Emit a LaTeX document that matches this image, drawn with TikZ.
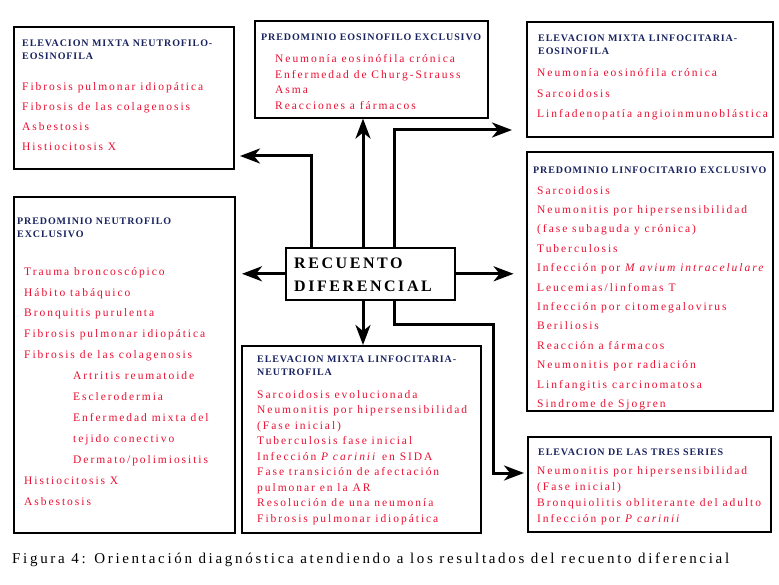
\documentclass[tikz,border=0pt]{standalone}
\usepackage{fontspec}
\setmainfont{Liberation Serif}
\newfontfamily\itemfont{Liberation Serif}[LetterSpace=17]
\newfontfamily\headfont{Liberation Serif}[LetterSpace=9]
\newfontfamily\recfont{Liberation Serif}[LetterSpace=16]
\newfontfamily\capfont{Liberation Serif}[LetterSpace=18]
\usetikzlibrary{arrows.meta,positioning}
\definecolor{headblue}{RGB}{25,35,95}
\definecolor{itemred}{RGB}{235,15,50}

\begin{document}
\begin{tikzpicture}[x=1pt, y=-1pt,
    box/.style={draw, line width=1.6pt, anchor=north west, inner sep=0pt},
    head/.style={anchor=base west, inner sep=0pt, align=left, text=headblue,
      font=\headfont\bfseries\fontsize{10}{13}\selectfont},
    items/.style={anchor=base west, inner sep=0pt, align=left, text=itemred,
      font=\itemfont\fontsize{11.5}{#1}\selectfont},
    conn/.style={line width=3pt, -{Stealth[length=20pt,width=15pt,inset=6pt]}},
  ]
  \useasboundingbox (0,0) rectangle (779,585);

  % boxes
  \node[box, minimum width=220pt, minimum height=142pt] (mxne) at (13,26) {};
  \node[box, minimum width=233pt, minimum height=97pt] (eos) at (254,20) {};
  \node[box, minimum width=246pt, minimum height=115pt] (mxle) at (526,21) {};
  \node[box, minimum width=221pt, minimum height=336pt] (neu) at (13,196) {};
  \node[box, minimum width=169pt, minimum height=52pt] (rec) at (285,247) {};
  \node[box, minimum width=239pt, minimum height=187pt] (mlne) at (241,345) {};
  \node[box, minimum width=246pt, minimum height=259pt] (lin) at (526,151) {};
  \node[box, minimum width=243pt, minimum height=95pt] (tres) at (527,436) {};

  % texts (base = last line)
  \node[head] (mxneh) at ([shift={(9,34)}]mxne.north west) {ELEVACION MIXTA NEUTROFILO-\\EOSINOFILA};
  \node[items=20] (mxnel) at ([shift={(9,125)}]mxne.north west) {Fibrosis pulmonar idiopática\\
    Fibrosis de las colagenosis\\Asbestosis\\Histiocitosis X};

  \node[head] (eosh) at ([shift={(7,21)}]eos.north west) {PREDOMINIO EOSINOFILO EXCLUSIVO};
  \node[items=15.5] (eosl) at ([shift={(21,89.5)}]eos.north west) {Neumonía eosinófila crónica\\
    Enfermedad de Churg-Strauss\\Asma\\Reacciones a fármacos};

  \node[head] (mxleh) at ([shift={(12,34)}]mxle.north west) {ELEVACION MIXTA LINFOCITARIA-\\EOSINOFILA};
  \node[items=20.5] (mxlel) at ([shift={(11,97)}]mxle.north west) {Neumonía eosinófila crónica\\
    Sarcoidosis\\Linfadenopatía angioinmunoblástica};

  \node[head] (neuh) at ([shift={(4,42)}]neu.north west) {PREDOMINIO NEUTROFILO\\EXCLUSIVO};
  \node[items=20.9] (neul) at ([shift={(11,309)}]neu.north west) {Trauma broncoscópico\\
    Hábito tabáquico\\Bronquitis purulenta\\Fibrosis pulmonar idiopática\\
    Fibrosis de las colagenosis\\
    \hspace*{49pt}Artritis reumatoide\\
    \hspace*{49pt}Esclerodermia\\
    \hspace*{49pt}Enfermedad mixta del\\
    \hspace*{49pt}tejido conectivo\\
    \hspace*{49pt}Dermato/polimiositis\\
    Histiocitosis X\\Asbestosis};

  \node[anchor=base west, inner sep=0pt, align=left,
    font=\recfont\bfseries\fontsize{16}{23}\selectfont] (rect) at ([shift={(9,44)}]rec.north west)
    {RECUENTO\\DIFERENCIAL};

  \node[head] (mlneh) at ([shift={(16,30)}]mlne.north west) {ELEVACION MIXTA LINFOCITARIA-\\NEUTROFILA};
  \node[items=15.5] (mlnel) at ([shift={(16,177)}]mlne.north west) {Sarcoidosis evolucionada\\
    Neumonitis por hipersensibilidad\\(Fase inicial)\\Tuberculosis fase inicial\\
    Infección \textit{P carinii} en SIDA\\Fase transición de afectación\\
    pulmonar en la AR\\Resolución de una neumonía\\Fibrosis pulmonar idiopática};

  \node[head] (linh) at ([shift={(7,23)}]lin.north west) {PREDOMINIO LINFOCITARIO EXCLUSIVO};
  \node[items=19.4] (linl) at ([shift={(11,256.4)}]lin.north west) {Sarcoidosis\\
    Neumonitis por hipersensibilidad\\(fase subaguda y crónica)\\Tuberculosis\\
    Infección por \textit{M avium intracelulare}\\Leucemias/linfomas T\\
    Infección por citomegalovirus\\Beriliosis\\Reacción a fármacos\\
    Neumonitis por radiación\\Linfangitis carcinomatosa\\Sindrome de Sjogren};

  \node[head] (tresh) at ([shift={(11,19)}]tres.north west) {ELEVACION DE LAS TRES SERIES};
  \node[items=15.7] (tresl) at ([shift={(10,86)}]tres.north west) {Neumonitis por hipersensibilidad\\
    (Fase inicial)\\Bronquiolitis obliterante del adulto\\Infección por \textit{P carinii}};

  \node[anchor=base west, inner sep=0pt, font=\capfont\fontsize{15}{17}\selectfont] (caption) at (12,563)
    {Figura 4: Orientación diagnóstica atendiendo a los resultados del recuento diferencial};

  % connectors
  \coordinate (rn1) at ([xshift=26]rec.north west);
  \coordinate (rn2) at ([xshift=78]rec.north west);
  \coordinate (rn3) at ([xshift=109]rec.north west);
  \coordinate (rs2) at ([xshift=78]rec.south west);
  \coordinate (rs3) at ([xshift=109]rec.south west);
  \coordinate (tipne) at (240,156);
  \coordinate (tiple) at (512,130);
  \coordinate (tipneu) at ([xshift=-43]rec.west);
  \coordinate (tiplin) at ([xshift=58]rec.east);
  \coordinate (bendtres) at (493,324);
  \coordinate (tiptres) at (524,473);

  \draw[conn] (rn1) |- (tipne);
  \draw[conn] (rn2) -- (rn2 |- eos.south);
  \draw[conn] (rn3) |- (tiple);
  \draw[conn] (rec.west) -- (tipneu);
  \draw[conn] (rec.east) -- (tiplin);
  \draw[conn] (rs2) -- (rs2 |- mlne.north);
  \draw[conn] (rs3) |- (bendtres) |- (tiptres);
\end{tikzpicture}
\end{document}
